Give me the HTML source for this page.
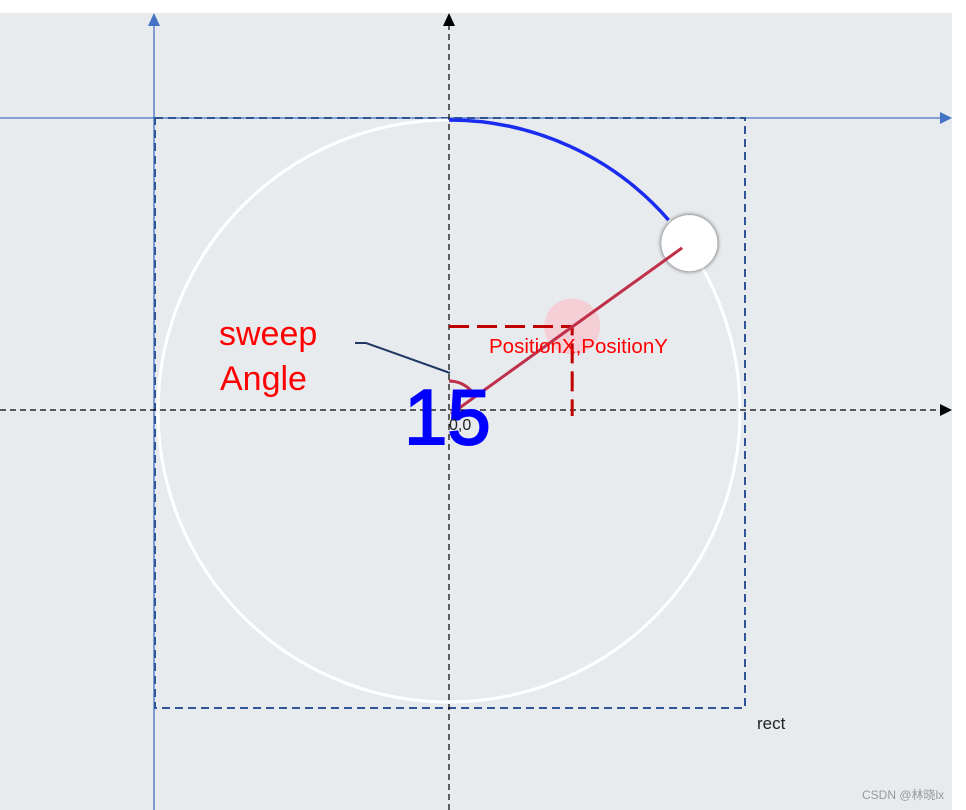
<!DOCTYPE html>
<html><head><meta charset="utf-8"><style>
html,body{margin:0;padding:0;background:#fff;}
svg{display:block;}
</style></head><body>
<svg width="966" height="810" viewBox="0 0 966 810" xmlns="http://www.w3.org/2000/svg">
<defs>
<filter id="sh" x="-50%" y="-50%" width="200%" height="200%"><feGaussianBlur in="SourceAlpha" stdDeviation="2.5"/><feOffset dx="0" dy="0"/><feComponentTransfer><feFuncA type="linear" slope="0.7"/></feComponentTransfer><feMerge><feMergeNode/><feMergeNode in="SourceGraphic"/></feMerge></filter>
</defs>
<rect x="0" y="13" width="952" height="797" fill="#e8ebee"/>
<line x1="154" y1="22" x2="154" y2="810" stroke="#4472c4" stroke-width="1.3"/>
<polygon points="148,26 160,26 154,13" fill="#4472c4"/>
<line x1="0" y1="118" x2="944" y2="118" stroke="#4472c4" stroke-width="1.3"/>
<polygon points="940,112 940,124 952,118" fill="#4472c4"/>
<rect x="155" y="118" width="590" height="590" fill="none" stroke="#2f5597" stroke-width="2" stroke-dasharray="8,5"/>
<circle cx="449" cy="411" r="291" fill="none" stroke="#ffffff" stroke-width="3"/>
<line x1="449" y1="24" x2="449" y2="810" stroke="#000" stroke-width="1.2" stroke-dasharray="6,4"/>
<polygon points="443,26 455,26 449,13" fill="#000"/>
<line x1="0" y1="410" x2="942" y2="410" stroke="#000" stroke-width="1.2" stroke-dasharray="6,4"/>
<polygon points="940,404 940,416 952,410" fill="#000"/>
<g id="dyn"></g>
<text x="219" y="345" font-family="Liberation Sans, sans-serif" font-size="34" fill="#ff0000">sweep</text>
<text x="220" y="390" font-family="Liberation Sans, sans-serif" font-size="34" fill="#ff0000">Angle</text>
<polyline points="355,343 366,343 450,373" fill="none" stroke="#1f3864" stroke-width="2"/>
<text x="489" y="353" font-family="Liberation Sans, sans-serif" font-size="20.5" fill="#ff0000">PositionX,PositionY</text>
<text x="404" y="444" font-family="Liberation Sans, sans-serif" font-size="78" fill="#0000ff" stroke="#0000ff" stroke-width="2">15</text>
<text x="449" y="430" font-family="Liberation Sans, sans-serif" font-size="16" fill="#222">0,0</text>
<text x="757" y="729" font-family="Liberation Sans, sans-serif" font-size="17" fill="#222">rect</text>
<text x="862" y="799" font-family="Liberation Sans, 'Noto Sans CJK SC', sans-serif" font-size="12" fill="#999">CSDN @林晓lx</text>
</svg>
<script>
const sweepAngle = [55];
const radius = [291];
const center = [449, 411];
const NS = "http://www.w3.org/2000/svg";
const g = document.getElementById('dyn');
const a = sweepAngle[0] * Math.PI / 180, r = radius[0], cx = center[0], cy = center[1];
function pt(ang, rr){ return [cx + rr*Math.sin(ang), cy - rr*Math.cos(ang)]; }
const aEnd = a - 6*Math.PI/180;
const e = pt(aEnd, r);
const arc = document.createElementNS(NS,'path');
arc.setAttribute('d', `M${cx},${cy-r} A${r},${r} 0 0 1 ${e[0]},${e[1]}`);
arc.setAttribute('fill','none'); arc.setAttribute('stroke','#1a2cf0'); arc.setAttribute('stroke-width','3.5');


g.appendChild(arc);
const half = pt(a, r/2);
const px = half[0] + 4, py = half[1] - 1;
const pink = document.createElementNS(NS,'circle');
pink.setAttribute('cx', px); pink.setAttribute('cy', py); pink.setAttribute('r', 28); pink.setAttribute('fill', '#f5cfd6');


g.appendChild(pink);
const dr = document.createElementNS(NS,'path');
dr.setAttribute('d', `M${cx},${py} H${px} V${cy+5}`);
dr.setAttribute('fill','none'); dr.setAttribute('stroke','#c00000'); dr.setAttribute('stroke-width','3'); dr.setAttribute('stroke-dasharray','20,8');


g.appendChild(dr);
const smallR = 30, s = pt(a, smallR);
const sa = document.createElementNS(NS,'path');
sa.setAttribute('d', `M${cx},${cy-smallR} A${smallR},${smallR} 0 0 1 ${s[0]},${s[1]}`);
sa.setAttribute('fill','none'); sa.setAttribute('stroke','#c0304a'); sa.setAttribute('stroke-width','3');


g.appendChild(sa);
const k = pt(a, r);
const knob = document.createElementNS(NS,'circle');
knob.setAttribute('cx', k[0] + 2); knob.setAttribute('cy', k[1] - 1); knob.setAttribute('r', 28); knob.setAttribute('fill', '#fff'); knob.setAttribute('filter','url(#sh)');


g.appendChild(knob);
const ke = pt(a, r-10);
const ln = document.createElementNS(NS,'line');
ln.setAttribute('x1', cx+2); ln.setAttribute('y1', cy+3); ln.setAttribute('x2', ke[0] + 3); ln.setAttribute('y2', ke[1] - 2);
ln.setAttribute('stroke','#c0304a'); ln.setAttribute('stroke-width','3');


g.appendChild(ln);
</script>
</body></html>
